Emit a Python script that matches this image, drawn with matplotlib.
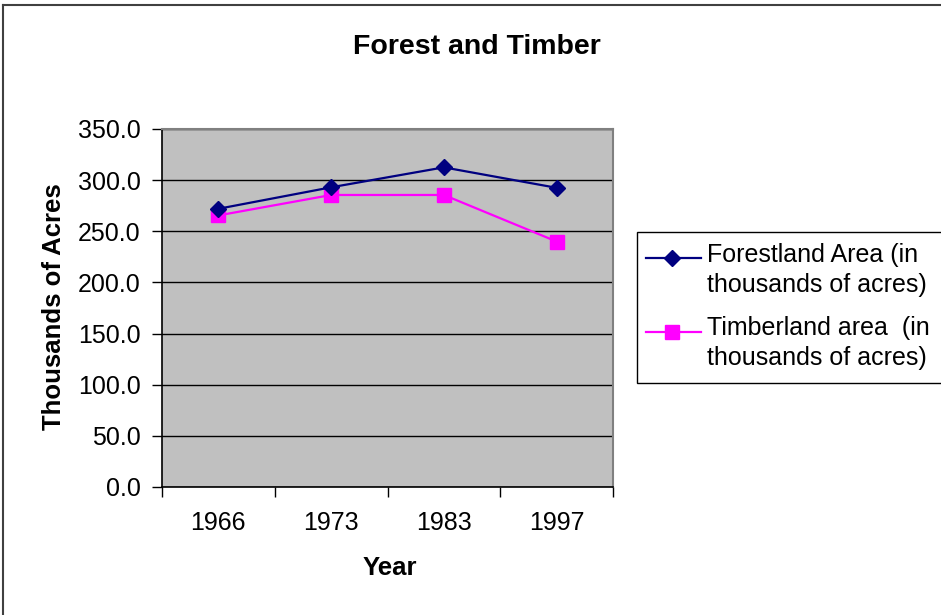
import matplotlib
matplotlib.use("Agg")
import matplotlib.pyplot as plt
from matplotlib.lines import Line2D
from matplotlib.patches import Rectangle

years = ["1966", "1973", "1983", "1997"]
forestland = [272.0, 293.0, 312.5, 292.5]
timberland = [265.5, 285.5, 285.5, 240.0]
series_labels = ["Forestland Area (in\nthousands of acres)", "Timberland area  (in\nthousands of acres)"]
y_ticks = [0, 50, 100, 150, 200, 250, 300, 350]

plt.rcParams['font.family'] = ['Liberation Sans', 'DejaVu Sans']

W, H = 941, 615
fig = plt.figure(figsize=(W / 100, H / 100), dpi=100)
fig.patch.set_facecolor('white')

ax = fig.add_axes([162 / W, 1 - 487 / H, (613 - 162) / W, (487 - 129) / H])
ax.set_facecolor('#C0C0C0')

x = list(range(len(years)))
navy = '#000080'
mag = '#FF00FF'
ax.plot(x, forestland, color=navy, lw=1.6, marker='D', markersize=8.5, markerfacecolor=navy,
        markeredgecolor=navy, zorder=4)
ax.plot(x, timberland, color=mag, lw=1.6, marker='s', markersize=10, markerfacecolor=mag,
        markeredgecolor=mag, zorder=3)

ax.set_xlim(-0.5, len(years) - 0.5)
ax.set_ylim(0, 350)
ax.set_yticks(y_ticks)
ax.set_yticklabels([f"{v:.1f}" for v in y_ticks])
ax.yaxis.grid(True, color='black', lw=1)
ax.set_axisbelow(True)

ax.set_xticks([i - 0.5 for i in range(len(years) + 1)])
ax.set_xticklabels([])
ax.set_xticks(x, minor=True)
ax.set_xticklabels(years, minor=True)
ax.tick_params(axis='x', which='major', length=7, width=1, direction='out', color='black')
ax.tick_params(axis='x', which='minor', length=0, pad=17, labelsize=18)
ax.tick_params(axis='y', length=7, width=1, direction='out', pad=8.5, labelsize=18)

for s in ['top', 'right']:
    ax.spines[s].set_color('#808080')
    ax.spines[s].set_linewidth(1.5)
for s in ['left', 'bottom']:
    ax.spines[s].set_color('black')
    ax.spines[s].set_linewidth(1.2)

fig.text(477 / W, 1 - 47 / H, "Forest and Timber", ha='center', va='center',
         fontsize=20.5, fontweight='bold')
fig.text(54 / W, 1 - 307 / H, "Thousands of Acres", ha='center', va='center',
         rotation=90, fontsize=18.5, fontweight='bold')
fig.text(390 / W, 1 - 568 / H, "Year", ha='center', va='center',
         fontsize=18.5, fontweight='bold')

# legend (manual)
fig.add_artist(Rectangle((637 / W, 1 - 383 / H), (960 - 637) / W, (383 - 232) / H,
                         transform=fig.transFigure, facecolor='white',
                         edgecolor='black', lw=1))
entries = [(navy, 'D', 8, 270, 258), (mag, 's', 10, 343, 332)]
for (c, m, ms, yc, ym), lab in zip(entries, series_labels):
    fig.add_artist(Line2D([646 / W, 701 / W], [1 - ym / H] * 2,
                          transform=fig.transFigure, color=c, lw=1.6))
    fig.add_artist(Line2D([672 / W], [1 - ym / H], transform=fig.transFigure,
                          color=c, marker=m, markersize=ms, markerfacecolor=c,
                          markeredgecolor=c))
    fig.text(707 / W, 1 - yc / H, lab, ha='left', va='center', fontsize=18,
             linespacing=1.28)

# figure border (top and left)
fig.add_artist(Line2D([3 / W, 3 / W], [0, 1 - 5 / H], transform=fig.transFigure,
                      color='#404040', lw=1.5))
fig.add_artist(Line2D([3 / W, 1], [1 - 5 / H, 1 - 5 / H], transform=fig.transFigure,
                      color='#404040', lw=1.5))

fig.savefig("out.png", dpi=100)
